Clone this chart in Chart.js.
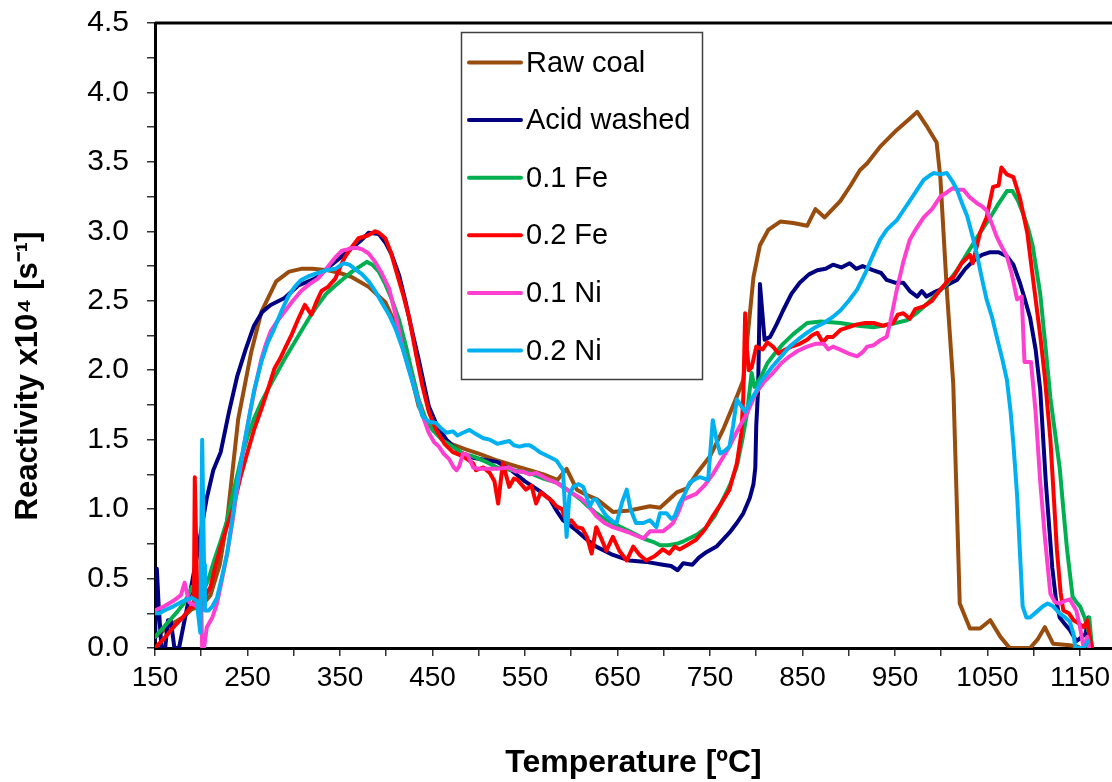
<!DOCTYPE html>
<html>
<head>
<meta charset="utf-8">
<script src="https://cdn.jsdelivr.net/npm/chart.js@4"></script>
<style>
  html, body { margin: 0; padding: 0; background: #fff; }
  #wrap { width: 1112px; height: 782px; }
</style>
</head>
<body>
<div id="wrap"><canvas id="c" width="1112" height="782"></canvas></div>
<script>
// ---------- DATA (temperature °C, reactivity x10^4 s^-1) ----------
const seriesNames = ['Raw coal', 'Acid washed', '0.1 Fe', '0.2 Fe', '0.1 Ni', '0.2 Ni'];

const rawCoal = [[150,0.08],[155,0.1],[160,0.13],[170,0.18],[180,0.22],[190,0.28],[200,0.30],[210,0.38],[220,0.6],[228,0.92],[240,1.65],[254,2.13],[265,2.42],[281,2.64],[295,2.71],[308,2.73],[320,2.73],[337,2.72],[350,2.70],[363,2.67],[381,2.60],[399,2.49],[410,2.33],[421,2.13],[435,1.74],[445,1.62],[454,1.55],[470,1.47],[486,1.43],[500,1.40],[520,1.35],[540,1.31],[555,1.28],[570,1.25],[585,1.21],[595,1.29],[606,1.14],[617,1.10],[628,1.07],[645,0.98],[663,0.99],[685,1.02],[696,1.01],[714,1.12],[725,1.15],[736,1.26],[750,1.38],[764,1.57],[779,1.81],[786,1.93],[797,2.67],[804,2.9],[813,3.01],[826,3.07],[840,3.06],[855,3.04],[864,3.16],[874,3.10],[891,3.22],[902,3.33],[912,3.44],[920,3.49],[934,3.61],[952,3.73],[964,3.80],[974,3.86],[985,3.75],[995,3.64],[999,3.39],[1006,2.58],[1013,1.90],[1020,0.32],[1031,0.14],[1042,0.14],[1053,0.20],[1064,0.08],[1074,0.0],[1096,0.0],[1104,0.06],[1112,0.15],[1121,0.03],[1139,0.02],[1148,0.01]];

const acidWashed = [[150,0.05],[152,0.57],[154,0.3],[157,0.0],[161,0.0],[164,0.2],[167,0.2],[171,0.0],[176,0.0],[182,0.2],[188,0.4],[195,0.65],[200,0.85],[206,1.08],[213,1.28],[221,1.41],[230,1.70],[239,1.96],[248,2.15],[257,2.32],[266,2.42],[275,2.47],[290,2.52],[305,2.61],[323,2.66],[341,2.76],[352,2.82],[363,2.88],[372,2.93],[381,2.99],[392,2.98],[399,2.92],[406,2.83],[414,2.68],[421,2.49],[428,2.28],[435,2.08],[446,1.74],[455,1.60],[465,1.50],[479,1.41],[494,1.37],[510,1.35],[520,1.34],[535,1.28],[550,1.20],[566,1.13],[577,1.07],[585,0.98],[591,0.92],[605,0.85],[617,0.78],[627,0.73],[645,0.67],[663,0.63],[681,0.62],[699,0.60],[708,0.59],[715,0.56],[721,0.61],[731,0.60],[738,0.65],[746,0.69],[757,0.73],[764,0.78],[771,0.83],[779,0.90],[786,0.97],[793,1.08],[797,1.18],[799,1.30],[800,1.60],[802,1.86],[804,2.62],[809,2.22],[815,2.24],[822,2.33],[829,2.43],[838,2.55],[847,2.63],[857,2.69],[866,2.72],[875,2.73],[883,2.76],[892,2.74],[901,2.77],[908,2.73],[915,2.75],[926,2.72],[935,2.70],[941,2.65],[950,2.63],[959,2.63],[966,2.57],[974,2.53],[979,2.57],[984,2.53],[992,2.56],[999,2.58],[1008,2.62],[1017,2.65],[1026,2.73],[1035,2.79],[1044,2.83],[1053,2.85],[1062,2.85],[1071,2.82],[1078,2.76],[1085,2.63],[1090,2.52],[1096,2.38],[1102,2.15],[1107,1.86],[1113,1.20],[1120,0.58],[1124,0.35],[1128,0.22],[1134,0.17],[1139,0.13],[1146,0.05],[1152,0.08],[1156,0.1],[1159,0.22],[1160,0.0]];

const fe01 = [[150,0.08],[158,0.14],[166,0.20],[174,0.26],[181,0.32],[186,0.38],[190,0.44],[196,0.46],[203,0.42],[208,0.5],[214,0.63],[221,0.77],[228,0.92],[235,1.13],[243,1.36],[250,1.52],[257,1.65],[265,1.77],[272,1.86],[281,1.97],[290,2.08],[299,2.18],[308,2.28],[317,2.38],[326,2.47],[335,2.55],[345,2.61],[354,2.66],[363,2.71],[372,2.75],[379,2.78],[385,2.76],[392,2.71],[399,2.62],[406,2.51],[414,2.36],[421,2.18],[428,1.98],[435,1.79],[442,1.66],[450,1.57],[460,1.50],[472,1.45],[483,1.40],[494,1.38],[508,1.34],[520,1.30],[537,1.28],[555,1.26],[570,1.22],[585,1.19],[598,1.13],[610,1.07],[618,1.02],[627,0.97],[636,0.93],[645,0.90],[654,0.87],[663,0.84],[672,0.81],[681,0.78],[690,0.76],[696,0.74],[705,0.74],[714,0.75],[722,0.77],[728,0.79],[737,0.82],[746,0.87],[755,0.95],[764,1.07],[772,1.18],[779,1.31],[785,1.50],[790,1.69],[795,1.98],[798,1.88],[805,1.95],[812,2.05],[820,2.12],[829,2.19],[840,2.26],[855,2.34],[870,2.35],[891,2.34],[910,2.32],[927,2.31],[945,2.33],[963,2.36],[975,2.42],[985,2.48],[995,2.55],[1006,2.62],[1017,2.72],[1028,2.84],[1040,2.97],[1053,3.10],[1062,3.20],[1071,3.29],[1077,3.29],[1083,3.22],[1089,3.12],[1094,3.02],[1099,2.89],[1107,2.55],[1113,2.15],[1118,1.80],[1123,1.55],[1128,1.30],[1132,1.00],[1136,0.71],[1142,0.37],[1146,0.33],[1150,0.30],[1155,0.22],[1159,0.12],[1160,0.22],[1163,0.0]];

const fe02 = [[150,0.0],[160,0.07],[170,0.15],[180,0.22],[188,0.29],[192,0.30],[193,1.23],[195,0.60],[196,0.30],[203,0.36],[210,0.44],[215,0.58],[221,0.73],[228,0.88],[235,1.02],[242,1.22],[250,1.41],[257,1.57],[265,1.72],[272,1.86],[279,2.01],[285,2.08],[290,2.15],[298,2.26],[305,2.37],[312,2.47],[319,2.40],[325,2.50],[330,2.57],[337,2.60],[345,2.66],[350,2.74],[355,2.81],[362,2.88],[370,2.95],[380,2.97],[388,3.0],[392,2.99],[399,2.95],[405,2.85],[410,2.73],[418,2.55],[425,2.37],[432,2.12],[439,1.89],[446,1.70],[454,1.57],[463,1.47],[472,1.41],[483,1.38],[494,1.33],[497,1.28],[505,1.30],[512,1.26],[517,1.20],[521,1.04],[526,1.33],[533,1.16],[538,1.22],[542,1.21],[551,1.14],[557,1.17],[562,1.04],[567,1.12],[573,1.09],[579,1.06],[584,1.02],[590,1.0],[595,0.90],[600,0.92],[606,0.87],[612,0.86],[617,0.80],[622,0.68],[627,0.87],[633,0.78],[638,0.70],[645,0.80],[652,0.70],[660,0.63],[667,0.73],[674,0.67],[681,0.63],[690,0.66],[699,0.71],[706,0.68],[712,0.73],[717,0.71],[725,0.74],[735,0.78],[744,0.85],[753,0.95],[762,1.04],[771,1.14],[779,1.33],[784,1.55],[786,1.81],[788,2.41],[790,2.15],[792,2.0],[795,2.02],[800,2.17],[807,2.15],[812,2.20],[818,2.17],[824,2.12],[829,2.14],[838,2.17],[847,2.19],[855,2.22],[860,2.25],[866,2.27],[872,2.20],[877,2.24],[883,2.24],[891,2.29],[900,2.31],[909,2.33],[918,2.34],[927,2.34],[937,2.32],[948,2.34],[953,2.40],[959,2.41],[966,2.37],[972,2.44],[981,2.46],[990,2.50],[999,2.58],[1008,2.65],[1013,2.67],[1022,2.77],[1031,2.83],[1034,2.77],[1042,2.99],[1049,3.10],[1056,3.32],[1062,3.33],[1065,3.46],[1071,3.41],[1078,3.39],[1085,3.24],[1093,2.99],[1099,2.67],[1107,2.25],[1112,1.95],[1118,1.50],[1122,1.05],[1125,0.71],[1129,0.40],[1132,0.27],[1138,0.25],[1143,0.20],[1148,0.18],[1154,0.15],[1158,0.2],[1160,0.1],[1163,0.0]];

const ni01 = [[150,0.27],[160,0.30],[170,0.34],[178,0.38],[182,0.47],[187,0.33],[195,0.30],[200,0.30],[201,0.0],[203,0.0],[206,0.15],[212,0.22],[217,0.32],[222,0.48],[228,0.68],[234,0.92],[239,1.16],[246,1.45],[254,1.74],[260,1.93],[265,2.08],[270,2.19],[275,2.28],[283,2.36],[290,2.42],[299,2.50],[308,2.57],[317,2.62],[326,2.66],[334,2.72],[341,2.78],[346,2.82],[352,2.86],[358,2.87],[363,2.88],[369,2.88],[374,2.87],[381,2.84],[388,2.78],[395,2.70],[403,2.59],[410,2.40],[417,2.18],[425,2.00],[432,1.84],[439,1.68],[446,1.55],[452,1.48],[457,1.45],[462,1.40],[468,1.36],[473,1.30],[476,1.28],[479,1.31],[483,1.40],[488,1.39],[494,1.30],[500,1.29],[510,1.29],[520,1.29],[533,1.30],[540,1.27],[548,1.27],[555,1.25],[562,1.26],[573,1.22],[584,1.19],[593,1.15],[602,1.11],[610,1.08],[617,1.04],[627,0.95],[636,0.90],[645,0.87],[654,0.85],[663,0.83],[670,0.81],[678,0.79],[685,0.84],[692,0.84],[699,0.84],[705,0.87],[710,0.90],[716,0.98],[721,1.07],[728,1.09],[735,1.11],[744,1.17],[753,1.25],[762,1.35],[771,1.45],[780,1.57],[790,1.69],[800,1.84],[809,1.92],[818,1.98],[827,2.05],[836,2.10],[845,2.14],[855,2.17],[864,2.19],[873,2.19],[878,2.15],[883,2.17],[890,2.15],[900,2.12],[909,2.10],[915,2.13],[920,2.17],[927,2.18],[935,2.22],[941,2.24],[945,2.35],[952,2.58],[959,2.78],[966,2.94],[973,3.02],[981,3.10],[990,3.16],[999,3.25],[1006,3.28],[1012,3.31],[1018,3.30],[1024,3.30],[1030,3.25],[1039,3.20],[1044,3.18],[1049,3.15],[1055,3.05],[1060,2.96],[1066,2.88],[1071,2.82],[1076,2.70],[1082,2.51],[1087,2.53],[1090,2.06],[1097,2.06],[1102,1.70],[1107,1.20],[1112,0.80],[1118,0.39],[1123,0.33],[1128,0.32],[1134,0.34],[1139,0.35],[1146,0.27],[1150,0.15],[1154,0.0],[1158,0.08],[1160,0.0]];

const ni02 = [[150,0.25],[155,0.25],[160,0.27],[170,0.30],[178,0.33],[185,0.35],[190,0.36],[195,0.34],[199,0.11],[201,1.50],[203,0.6],[204,0.27],[208,0.27],[212,0.30],[217,0.36],[222,0.50],[228,0.68],[234,0.95],[239,1.19],[245,1.42],[250,1.60],[257,1.85],[265,2.06],[272,2.20],[279,2.30],[287,2.43],[294,2.53],[301,2.60],[308,2.65],[317,2.68],[326,2.70],[335,2.72],[345,2.73],[354,2.77],[360,2.76],[366,2.73],[374,2.69],[381,2.64],[388,2.57],[395,2.49],[403,2.40],[410,2.30],[418,2.15],[425,1.99],[432,1.83],[439,1.67],[446,1.63],[454,1.62],[458,1.59],[465,1.55],[472,1.56],[477,1.53],[483,1.55],[490,1.57],[497,1.54],[505,1.51],[512,1.50],[520,1.47],[526,1.48],[533,1.49],[538,1.46],[544,1.45],[550,1.46],[555,1.46],[560,1.44],[566,1.41],[575,1.38],[584,1.35],[591,1.28],[595,0.80],[598,1.10],[602,1.16],[608,1.18],[613,1.16],[620,1.02],[624,1.07],[627,1.07],[633,1.00],[638,0.95],[645,0.91],[649,0.90],[655,1.05],[660,1.14],[664,1.00],[670,0.90],[678,0.90],[685,0.92],[692,0.87],[696,0.97],[703,0.97],[708,0.93],[712,0.95],[717,1.04],[722,1.10],[728,1.19],[735,1.22],[739,1.23],[744,1.22],[748,1.21],[753,1.64],[757,1.50],[761,1.40],[766,1.42],[771,1.45],[775,1.60],[779,1.79],[783,1.75],[788,1.70],[794,1.78],[800,1.85],[804,1.91],[811,1.97],[818,2.03],[827,2.10],[836,2.17],[845,2.22],[855,2.27],[864,2.31],[873,2.34],[882,2.38],[891,2.43],[900,2.50],[909,2.58],[918,2.70],[927,2.84],[934,2.94],[941,3.01],[947,3.05],[952,3.08],[959,3.15],[966,3.22],[974,3.30],[981,3.37],[987,3.40],[992,3.42],[999,3.41],[1006,3.42],[1012,3.36],[1017,3.30],[1022,3.21],[1028,3.11],[1034,2.96],[1039,2.82],[1044,2.66],[1049,2.51],[1055,2.38],[1060,2.24],[1066,2.08],[1071,1.93],[1075,1.70],[1078,1.47],[1082,1.10],[1085,0.70],[1088,0.30],[1092,0.22],[1096,0.22],[1103,0.26],[1110,0.30],[1115,0.32],[1121,0.30],[1128,0.25],[1134,0.22],[1139,0.19],[1143,0.10],[1145,0.0],[1150,0.0],[1154,0.0],[1159,0.05]];

const yTickLabels = ['0.0','0.5','1.0','1.5','2.0','2.5','3.0','3.5','4.0','4.5'];
const xTickLabels = ['150','250','350','450','550','650','750','850','950','1050','1150'];
const yTitle = 'Reactivity x10⁴ [s⁻¹]';
const xTitle = 'Temperature [ºC]';

// ---------- STYLE ----------
const colors = ['#984C0E', '#000080', '#00B050', '#FF0000', '#FF3FCF', '#00B0F0'];
const allSeries = [rawCoal, acidWashed, fe01, fe02, ni01, ni02];
const FONT = '"Liberation Sans", Arial, sans-serif';

const datasets = allSeries.map((s, i) => ({
  label: seriesNames[i],
  data: s.map(p => ({ x: p[0], y: p[1] })),
  borderColor: colors[i],
  backgroundColor: colors[i],
  borderWidth: 4,
  pointRadius: 0,
  tension: 0,
  fill: false,
  borderJoinStyle: 'round',
  borderCapStyle: 'round',
  order: allSeries.length - i
}));

const boxLegend = {
  id: 'boxLegend',
  afterDraw(chart) {
    const ctx = chart.ctx;
    ctx.save();
    ctx.fillStyle = '#fff';
    ctx.fillRect(461, 32, 241, 347);
    ctx.strokeStyle = '#404040';
    ctx.lineWidth = 1.5;
    ctx.strokeRect(461.5, 32.5, 241, 347);
    chart.data.datasets.forEach((ds, i) => {
      const y = 62.5 + i * 57.6;
      ctx.strokeStyle = ds.borderColor;
      ctx.lineWidth = 4;
      ctx.lineCap = 'round';
      ctx.beginPath();
      ctx.moveTo(469, y);
      ctx.lineTo(521, y);
      ctx.stroke();
      ctx.fillStyle = '#000';
      ctx.font = '29px ' + FONT;
      ctx.textBaseline = 'middle';
      ctx.textAlign = 'left';
      ctx.fillText(ds.label, 526, y + 1);
    });
    ctx.restore();
  }
};

const frameAndTitle = {
  id: 'frameAndTitle',
  afterDatasetsDraw(chart) {
    const { ctx, chartArea } = chart;
    ctx.save();
    ctx.strokeStyle = '#000';
    ctx.lineWidth = 3;
    ctx.beginPath();
    ctx.moveTo(chartArea.left, chartArea.top);
    ctx.lineTo(chart.width, chartArea.top);
    ctx.stroke();
    ctx.restore();
  },
  afterDraw(chart) {
    const ctx = chart.ctx;
    ctx.save();
    ctx.translate(28, 376);
    ctx.rotate(-Math.PI / 2);
    ctx.fillStyle = '#000';
    ctx.font = 'bold 31px ' + FONT;
    ctx.textAlign = 'center';
    ctx.textBaseline = 'middle';
    ctx.fillText(yTitle, 0, 0);
    ctx.restore();
  }
};

new Chart(document.getElementById('c'), {
  type: 'line',
  data: { datasets },
  options: {
    responsive: false,
    animation: false,
    devicePixelRatio: 1,
    layout: { padding: { top: 23, right: 0, left: 0, bottom: 0 } },
    plugins: { legend: { display: false }, tooltip: { enabled: false } },
    scales: {
      x: {
        type: 'linear',
        min: 150,
        max: 1184.6,
        afterFit: s => { s.height = 134; s.paddingLeft = 0; s.paddingRight = 0; },
        ticks: {
          stepSize: 50,
          autoSkip: false,
          includeBounds: false,
          maxRotation: 0,
          padding: 5,
          color: '#000',
          font: { family: FONT, size: 28 },
          callback: v => { const s = String(Math.round(v)); return xTickLabels.includes(s) ? s : ''; }
        },
        grid: { display: true, drawOnChartArea: false, drawTicks: true, tickLength: 8, color: '#333', lineWidth: 1.5 },
        border: { display: true, color: '#000', width: 3 },
        title: {
          display: true,
          text: xTitle,
          color: '#000',
          font: { family: FONT, size: 32, weight: 'bold' },
          padding: { top: 0, bottom: 0 }
        }
      },
      y: {
        type: 'linear',
        min: 0,
        max: 4.5,
        afterFit: s => { s.width = 155; s.paddingTop = 0; s.paddingBottom = 0; },
        ticks: {
          stepSize: 0.25,
          autoSkip: false,
          padding: 18,
          color: '#000',
          font: { family: FONT, size: 30 },
          callback: v => { const s = v.toFixed(1); return (Math.abs(v * 2 - Math.round(v * 2)) < 1e-6 && yTickLabels.includes(s)) ? s : ''; }
        },
        grid: { display: true, drawOnChartArea: false, drawTicks: true, tickLength: 8, color: '#333', lineWidth: 1.5 },
        border: { display: true, color: '#000', width: 3 },
        title: { display: false }
      }
    }
  },
  plugins: [boxLegend, frameAndTitle]
});
</script>
</body>
</html>
